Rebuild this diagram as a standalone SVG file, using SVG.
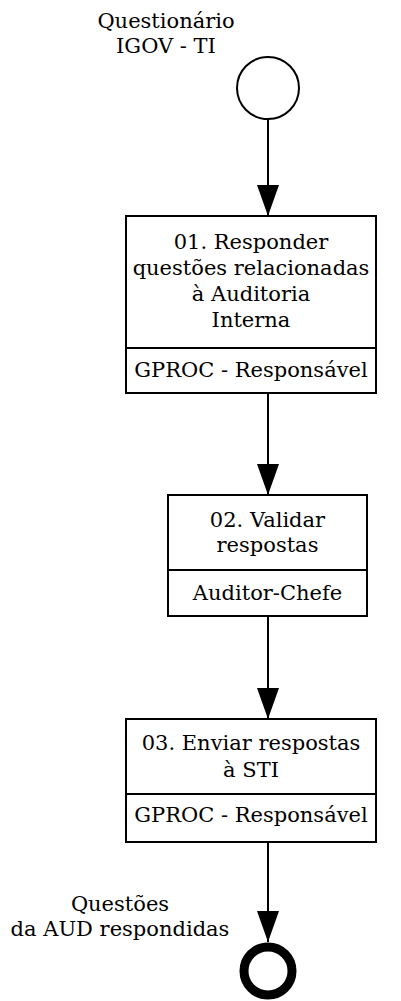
<svg xmlns="http://www.w3.org/2000/svg" width="401" height="1001" viewBox="0 0 401 1001">
<style>
text{font-family:"DejaVu Serif","Liberation Serif",serif;font-size:21px;fill:#000;text-anchor:middle}
.box{fill:#fff;stroke:#000;stroke-width:2}
.div{stroke:#000;stroke-width:2}
.edge{stroke:#000;stroke-width:2;fill:none;marker-end:url(#arr)}
</style>
<defs>
<marker id="arr" markerUnits="userSpaceOnUse" markerWidth="31" markerHeight="22" refX="31" refY="11" orient="auto" viewBox="0 0 31 22">
<path d="M0,0 L31,11 L0,22 Z" fill="#000"/>
</marker>
</defs>
<g id="edges">
<line class="edge" x1="268" y1="119" x2="268" y2="216"/>
<line class="edge" x1="268" y1="393" x2="268" y2="495"/>
<line class="edge" x1="268" y1="616" x2="268" y2="719"/>
<line class="edge" x1="268" y1="842" x2="268" y2="942"/>
</g>
<g id="start">
<circle cx="268" cy="88" r="31" fill="#fff" stroke="#000" stroke-width="2"/>
<text x="166" y="28">Questionário</text>
<text x="166" y="53">IGOV - TI</text>
</g>
<g id="task1">
<rect class="box" x="126" y="216" width="250" height="177"/>
<line class="div" x1="126" y1="348" x2="376" y2="348"/>
<text x="251" y="249">01. Responder</text>
<text x="251" y="275">questões relacionadas</text>
<text x="251" y="301">à Auditoria</text>
<text x="251" y="327">Interna</text>
<text x="251" y="377">GPROC - Responsável</text>
</g>
<g id="task2">
<rect class="box" x="168" y="495" width="199" height="121"/>
<line class="div" x1="168" y1="570" x2="367" y2="570"/>
<text x="267.5" y="527">02. Validar</text>
<text x="267.5" y="552">respostas</text>
<text x="267.5" y="600">Auditor-Chefe</text>
</g>
<g id="task3">
<rect class="box" x="126" y="719" width="250" height="123"/>
<line class="div" x1="126" y1="794" x2="376" y2="794"/>
<text x="251" y="750">03. Enviar respostas</text>
<text x="251" y="777">à STI</text>
<text x="251" y="822">GPROC - Responsável</text>
</g>
<g id="end">
<circle cx="268" cy="971" r="24" fill="#fff" stroke="#000" stroke-width="9"/>
<text x="120" y="911">Questões</text>
<text x="120" y="936">da AUD respondidas</text>
</g>
</svg>
